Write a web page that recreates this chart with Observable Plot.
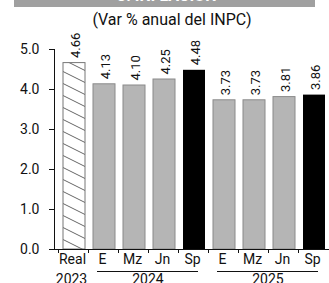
<!DOCTYPE html>
<html><head><meta charset="utf-8">
<script src="https://cdn.jsdelivr.net/npm/d3@7"></script>
<script src="https://cdn.jsdelivr.net/npm/@observablehq/plot@0.6"></script>
<style>
body{margin:0;background:#fff;font-family:Roboto,sans-serif;}
#wrap{position:relative;width:329px;height:283px;overflow:hidden;}
#banner{position:absolute;left:14px;top:0;width:301px;height:7px;background:#a0a0a0;overflow:hidden;}
#banner span{position:absolute;left:103px;top:-12px;color:#fff;font-weight:bold;font-size:16px;line-height:16px;white-space:nowrap;}
#sub{position:absolute;top:10px;left:0;width:344px;text-align:center;font-size:16px;color:#111;}
#chart{position:absolute;top:28px;left:0;}
</style>
</head><body>
<div id="wrap">
  <div id="banner"><span>3. INFLACIÓN</span></div>
  <div id="sub">(Var % anual del INPC)</div>
  <div id="chart"></div>
</div>
<script>
const categories = ["Real 2023","E 2024","Mz 2024","Jn 2024","Sp 2024","E 2025","Mz 2025","Jn 2025","Sp 2025"];
const monthLabels = ["Real","E","Mz","Jn","Sp","E","Mz","Jn","Sp"];
const years = ["2023","2024","2024","2024","2024","2025","2025","2025","2025"];
const values = [4.66,4.13,4.10,4.25,4.48,3.73,3.73,3.81,3.86];
const kinds = ["real","enc","enc","enc","sp","enc","enc","enc","sp"];
const yTicks = [0,1,2,3,4,5];

const rows = categories.map((c,i)=>({cat:c, month:monthLabels[i], year:years[i], value:values[i], kind:kinds[i]}));
const groups = d3.groups(rows, d=>d.year).map(([year, rs])=>({year, first:rs[0].cat, last:rs[rs.length-1].cat, n:rs.length}));

const xRange=[51,338], pad=0.26;
const step=(xRange[1]-xRange[0])/(categories.length+pad);
const ink="#111";

const chart = Plot.plot({
  width:329, height:255,
  marginTop:21, marginBottom:34, marginLeft:54, marginRight:0,
  style:{fontFamily:"Roboto, sans-serif", fontSize:"14px", color:ink, background:"transparent"},
  x:{domain:categories, range:xRange, padding:pad, axis:null},
  y:{domain:[0,5], ticks:yTicks, tickFormat:d3.format(".1f"), tickSize:5, tickPadding:10, line:true, label:null},
  marks:[
    Plot.barY(rows.filter(d=>d.kind==="enc"), {x:"cat", y:"value", fill:"#b5b5b5", stroke:"#8a8a8a", strokeWidth:1}),
    Plot.barY(rows.filter(d=>d.kind==="sp"), {x:"cat", y:"value", fill:"#000"}),
    Plot.barY(rows.filter(d=>d.kind==="real"), {x:"cat", y:"value", fill:"url(#hatch)", stroke:"#777", strokeWidth:1}),
    Plot.text(rows, {x:"cat", y:"value", text:d=>d.value.toFixed(2), rotate:-90, textAnchor:"start", dy:-5, dx:1.5, fontSize:13, fill:ink}),
    Plot.ruleY([0], {stroke:ink, strokeWidth:1.2}),
    Plot.axisX({tickSize:4, tickFormat:()=>"", dx:-16, stroke:ink}),
    Plot.axisX({tickSize:0, tickPadding:5, tickFormat:d=>monthLabels[categories.indexOf(d)], dx:-2, fontSize:14, fill:ink}),
    Plot.ruleY(groups.filter(g=>g.n>1), {x1:d=>d.first, x2:d=>d.last, y:d=>0, dy:22, insetLeft:4, insetRight:7, stroke:ink}),
    ...groups.map(g=>Plot.text([g], {x:"first", y:d=>0, text:"year", lineAnchor:"top", dy:25, dx:(g.n-1)/2*step-3, fontSize:14, fill:ink}))
  ]
});

const svg = d3.select(chart);
const defs = svg.insert("defs", ":first-child");
const pat = defs.append("pattern").attr("id","hatch").attr("patternUnits","userSpaceOnUse").attr("width",24).attr("height",12);
pat.append("rect").attr("width",24).attr("height",12).attr("fill","#fff");
pat.append("path").attr("d","M-2,-1L26,13M22,-1L26,1M-2,11L2,13").attr("stroke","#666").attr("stroke-width",1).attr("fill","none");
document.getElementById("chart").appendChild(chart);
</script>
</body></html>
